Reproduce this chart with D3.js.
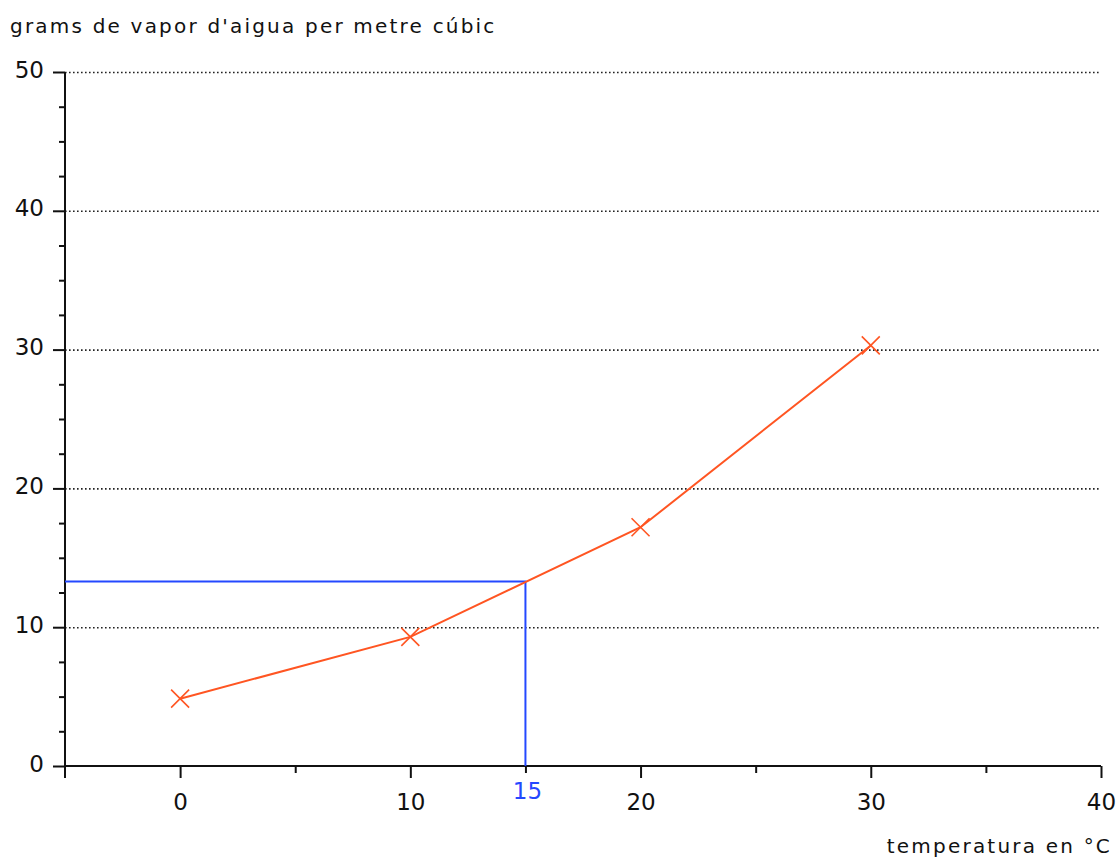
<!DOCTYPE html>
<html><head><meta charset="utf-8">
<script src="https://cdn.jsdelivr.net/npm/d3@7"></script>
<style>body{margin:0;background:#fff}svg{display:block}text{font-family:"DejaVu Sans",sans-serif;fill:#111}</style>
</head><body>
<script>
const temps = [0, 10, 20, 30];
const vapor = [4.85, 9.3, 17.2, 30.3];
const refX = 15;
const refY = 13.3;
const xTickLabels = [0, 10, 20, 30, 40];
const yTickLabels = [0, 10, 20, 30, 40, 50];
const yTitle = "grams de vapor d'aigua per metre cúbic";
const xTitle = "temperatura en °C";

const W = 1116, H = 859;
const svg = d3.select("body").append("svg").attr("width", W).attr("height", H);
const x = d3.scaleLinear().domain([-5, 40]).range([65, 1101]);
const y = d3.scaleLinear().domain([0, 50]).range([766, 72]);

// gridlines
svg.append("g").selectAll("line").data(yTickLabels.filter(d => d > 0)).join("line")
  .attr("x1", x(-5)).attr("x2", x(40)).attr("y1", d => y(d) + 0.5).attr("y2", d => y(d) + 0.5)
  .attr("stroke", "#222").attr("stroke-width", 1.6).attr("stroke-dasharray", "1.6,2.4");

// y axis
const yAxis = d3.axisLeft(y).tickValues(yTickLabels).tickSize(12).tickPadding(9).tickFormat(d3.format("d"));
const yMinor = d3.axisLeft(y).tickValues(d3.range(0, 50.1, 2.5).filter(d => d % 10 !== 0)).tickSize(6).tickFormat("");
const gy = svg.append("g").attr("transform", `translate(${x(-5)},0)`).call(yAxis);
svg.append("g").attr("transform", `translate(${x(-5)},0)`).call(yMinor).select(".domain").remove();
// x axis
const xAxis = d3.axisBottom(x).tickValues(xTickLabels).tickSize(12).tickPadding(16).tickFormat(d3.format("d"));
const xMinor = d3.axisBottom(x).tickValues([5, 15, 25, 35]).tickSize(7).tickFormat("");
const gx = svg.append("g").attr("transform", `translate(0,${y(0)})`).call(xAxis);
svg.append("g").attr("transform", `translate(0,${y(0)})`).call(xMinor).select(".domain").remove();
svg.append("line").attr("x1", x(-5)).attr("x2", x(-5)).attr("y1", y(0)).attr("y2", y(0) + 12).attr("stroke", "#111").attr("stroke-width", 2);

svg.selectAll(".domain").attr("stroke", "#111").attr("stroke-width", 2);
svg.selectAll(".tick line").attr("stroke", "#111").attr("stroke-width", 2);
svg.selectAll(".tick text").style("font-size", "23px").attr("fill", "#111");
gy.selectAll(".tick text").attr("dy", "0.22em");
gx.selectAll(".domain").attr("d", `M${x(-5)},0H${x(40)}`);
gy.selectAll(".domain").attr("d", `M0,${y(50)}V${y(0)}`);

// reference blue lines
svg.append("path")
  .attr("d", `M${x(-5)},${y(refY)}H${x(refX)}V${y(0)}`)
  .attr("fill", "none").attr("stroke", "#2448ff").attr("stroke-width", 2);
svg.append("text").attr("x", x(refX) + 2).attr("y", y(0) + 33).attr("text-anchor", "middle")
  .style("font-size", "23px").style("fill", "#2448ff").text(refX);

// data line
const pts = temps.map((t, i) => [x(t), y(vapor[i])]);
svg.append("path").attr("d", d3.line()(pts)).attr("fill", "none").attr("stroke", "#ff5522").attr("stroke-width", 2);
const s = 9;
svg.append("g").selectAll("path").data(pts).join("path")
  .attr("d", d => `M${d[0]-s},${d[1]-s}L${d[0]+s},${d[1]+s}M${d[0]-s},${d[1]+s}L${d[0]+s},${d[1]-s}`)
  .attr("stroke", "#ff5522").attr("stroke-width", 1.6).attr("fill", "none");

// titles
svg.append("text").attr("x", 10).attr("y", 33).style("font-size", "20px").attr("letter-spacing", "2.2px").text(yTitle);
svg.append("text").attr("x", 1112).attr("y", 853).attr("text-anchor", "end").style("font-size", "20px").attr("letter-spacing", "2.2px").text(xTitle);
</script>
</body></html>
